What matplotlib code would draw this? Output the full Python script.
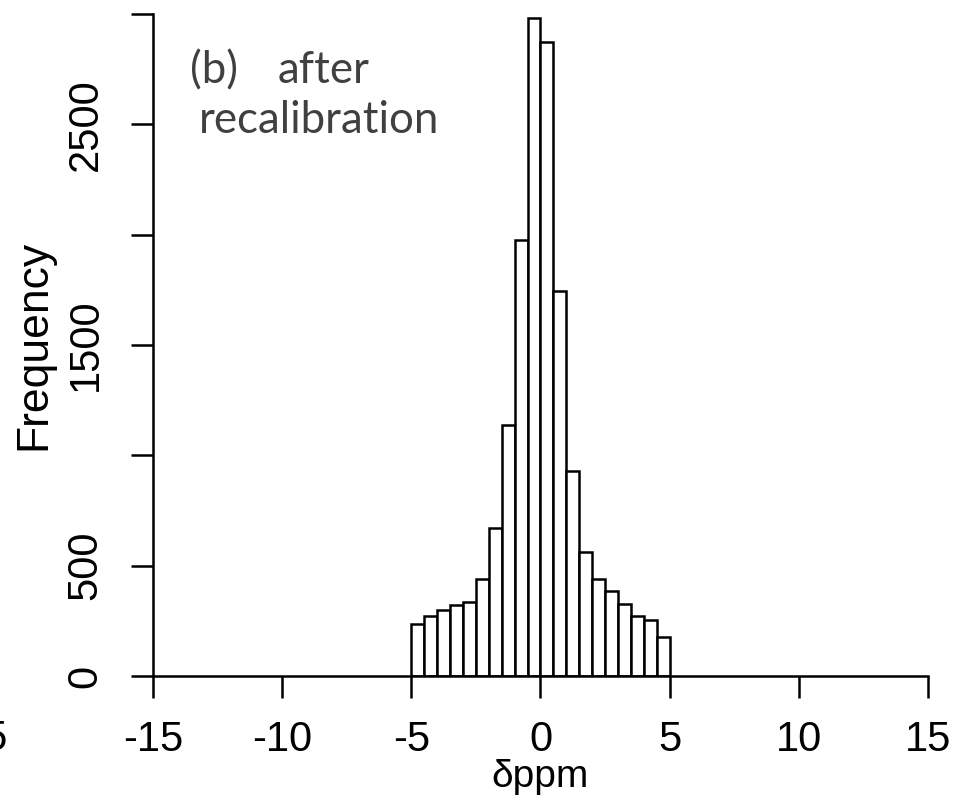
import numpy as np
import matplotlib
matplotlib.use("Agg")
import matplotlib.pyplot as plt

# histogram of mass error after recalibration
bin_edges = [-5.0, -4.5, -4.0, -3.5, -3.0, -2.5, -2.0, -1.5, -1.0, -0.5, 0.0,
             0.5, 1.0, 1.5, 2.0, 2.5, 3.0, 3.5, 4.0, 4.5, 5.0]
counts = [234, 272, 298, 322, 337, 440, 670, 1138, 1974, 2984,
          2871, 1747, 930, 564, 440, 385, 325, 272, 254, 178]

x_ticks = [-15, -10, -5, 0, 5, 10, 15]
y_ticks = [0, 500, 1000, 1500, 2000, 2500, 3000]
y_tick_labels = ["0", "500", "", "1500", "", "2500", ""]

plt.rcParams['font.family'] = ['Liberation Sans', 'DejaVu Sans']

fig = plt.figure(figsize=(9.56, 8.01), dpi=100)
ax = fig.add_axes([0.160, 0.156, 0.8107, 0.8265])

ax.bar(bin_edges[:-1], counts, width=np.diff(bin_edges), align='edge',
       facecolor='white', edgecolor='black', linewidth=1.8)

ax.set_xlim(-15, 15)
ax.set_ylim(0, 3000)
ax.set_xticks(x_ticks)
ax.set_xticklabels([str(t) for t in x_ticks])
ax.set_yticks(y_ticks)
ax.set_yticklabels(y_tick_labels, rotation=90, va='center')

for side in ['top', 'right']:
    ax.spines[side].set_visible(False)
for side in ['left', 'bottom']:
    ax.spines[side].set_linewidth(1.8)

ax.tick_params(axis='x', direction='out', length=16, width=1.8, pad=16, labelsize=30)
ax.tick_params(axis='y', direction='out', length=16, width=1.8, pad=18, labelsize=30)

ax.set_xlabel('δppm', fontsize=28, labelpad=-1)
ax.set_ylabel('Frequency', fontsize=32, labelpad=8)

# panel annotation
ann = dict(fontsize=31.5, color='#404040', family=['Lato', 'DejaVu Sans'], va='baseline')
fig.text(190 / 956, 1 - 83 / 801, '(b)', **ann)
fig.text(278 / 956, 1 - 83 / 801, 'after', **ann)
fig.text(199 / 956, 1 - 133 / 801, 'recalibration', **ann)

# clipped label from the neighbouring panel
fig.text(8 / 956, 1 - 750 / 801, '15', fontsize=30, ha='right', va='baseline')

fig.savefig('out.png', dpi=100)
